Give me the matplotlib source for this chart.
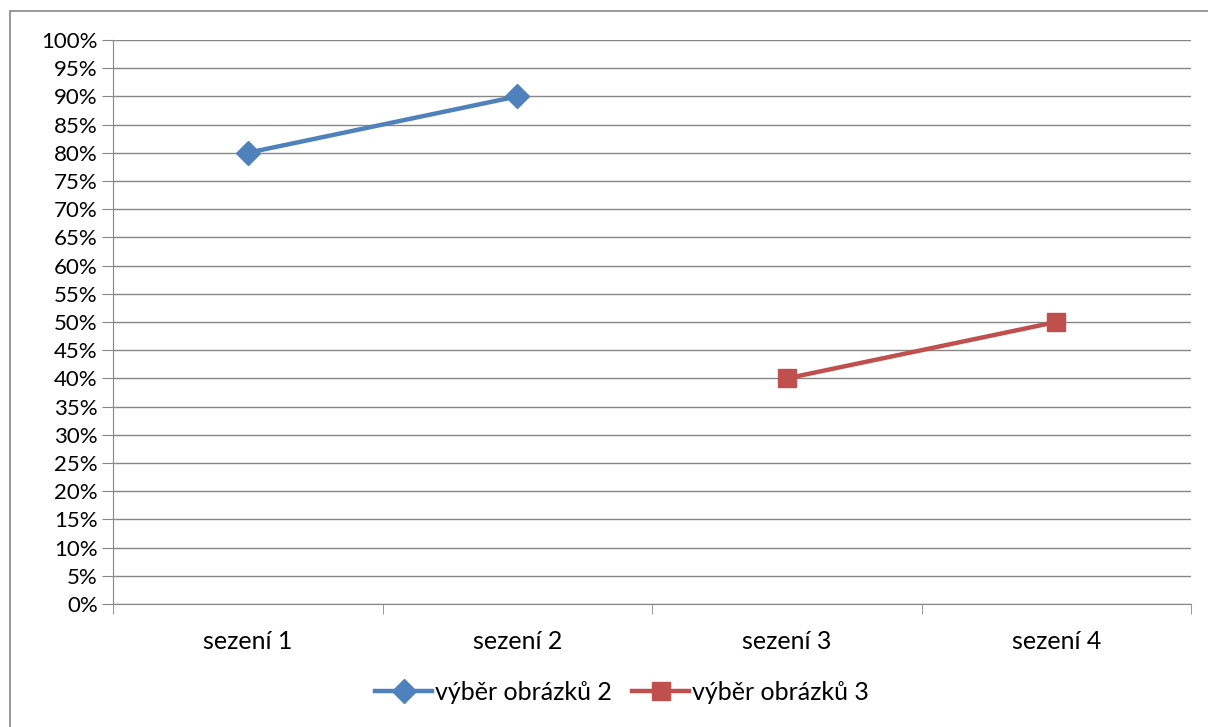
import numpy as np
import matplotlib
matplotlib.use("Agg")
import matplotlib.pyplot as plt
from matplotlib.patches import Rectangle

plt.rcParams["font.family"] = ["Lato", "DejaVu Sans"]

categories = ["sezení 1", "sezení 2", "sezení 3", "sezení 4"]
series_names = ["výběr obrázků 2", "výběr obrázků 3"]
vyber2 = [80, 90, np.nan, np.nan]
vyber3 = [np.nan, np.nan, 40, 50]
y_ticks = list(range(0, 101, 5))

BLUE = "#4F81BD"
RED = "#C0504D"
GRID = "#868686"

fig = plt.figure(figsize=(12.08, 7.27), dpi=100)
ax = fig.add_axes([113 / 1208, 1 - 604 / 727, 1078 / 1208, 564 / 727])

# outer chart frame
fig.patches.append(Rectangle((10 / 1208, -0.01), 1.2, 1 - 11 / 727 + 0.01,
                             transform=fig.transFigure, fill=False,
                             edgecolor=GRID, lw=1.2))

x = np.arange(len(categories))
ax.plot(x, vyber2, color=BLUE, lw=3.2, marker="D", ms=12,
        label=series_names[0], zorder=3)
ax.plot(x, vyber3, color=RED, lw=3.2, marker="s", ms=13,
        label=series_names[1], zorder=3)

ax.set_xlim(-0.5, len(categories) - 0.5)
ax.set_ylim(0, 100)
ax.set_yticks(y_ticks)
ax.set_yticklabels([f"{v}%" for v in y_ticks])
ax.set_xticks(x)
ax.set_xticklabels(categories)
ax.set_xticks(np.arange(-0.5, len(categories)), minor=True)

ax.grid(axis="y", color=GRID, lw=1.0)
ax.set_axisbelow(True)
for side in ["top", "right"]:
    ax.spines[side].set_visible(False)
ax.spines["left"].set_color(GRID)
ax.spines["bottom"].set_color(GRID)

ax.tick_params(axis="y", length=8, color=GRID, labelsize=16, pad=3)
ax.tick_params(axis="x", which="major", length=0, labelsize=18, pad=19)
ax.tick_params(axis="x", which="minor", length=7, color=GRID)

ax.legend(loc="center", bbox_to_anchor=(0.472, -0.157), ncol=2, frameon=False,
          fontsize=18, handlelength=2.3, handletextpad=0.1, columnspacing=0.8)

fig.savefig("out.png", dpi=100)
